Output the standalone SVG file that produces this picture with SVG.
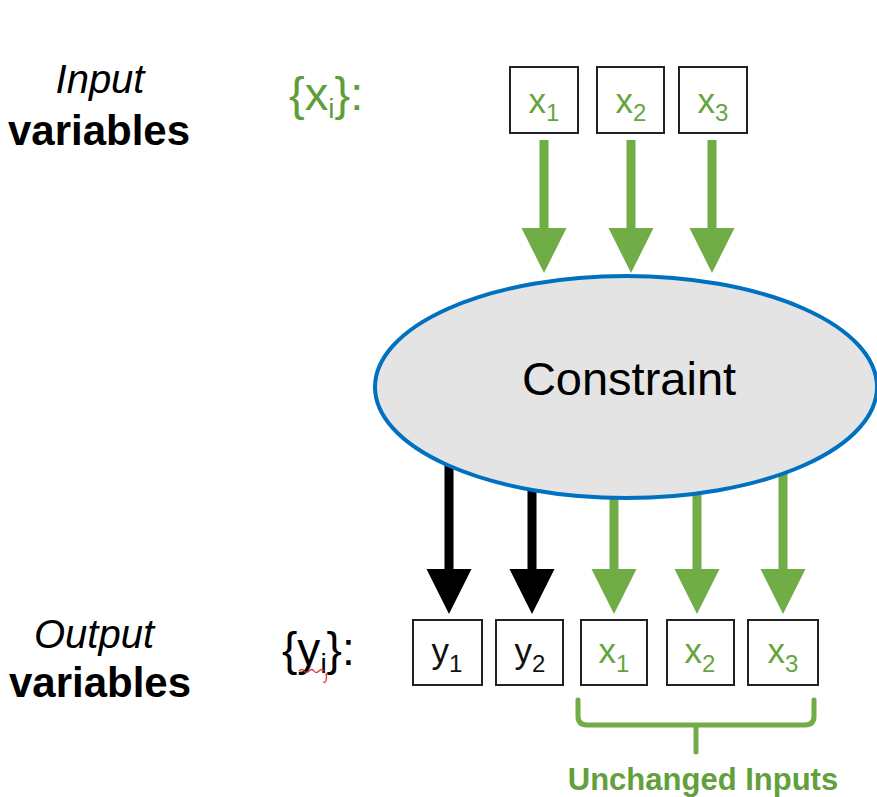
<svg xmlns="http://www.w3.org/2000/svg" width="877" height="797" viewBox="0 0 877 797">
  <style>
    .label { font-family: "Liberation Sans", Arial, sans-serif; fill: #000; }
    .ital { font-style: italic; font-size: 40px; }
    .bold { font-weight: bold; font-size: 42px; }
    .box { fill: #fff; stroke: #222; stroke-width: 2; }
    .var { font-family: "Liberation Sans", Arial, sans-serif; font-size: 35px; }
    .sub { font-size: 24px; }
    .green { fill: #64A53E; }
    .black { fill: #111; }
    .shaft-g { stroke: #70AD47; stroke-width: 9; fill: none; }
    .shaft-k { stroke: #000; stroke-width: 9; fill: none; }
  </style>
  <defs>
    <!-- Arrowhead shape, tip at origin pointing down -->
    <polygon id="headShape" points="-22.5,-45 22.5,-45 0,0"/>
  </defs>

  <rect width="877" height="797" fill="#fff"/>

  <!-- Row labels -->
  <g id="label-input">
    <text class="label ital" x="100" y="93" text-anchor="middle">Input</text>
    <text class="label bold" x="99" y="145" text-anchor="middle">variables</text>
  </g>
  <g id="label-output">
    <text class="label ital" x="94" y="648" text-anchor="middle">Output</text>
    <text class="label bold" x="100" y="697" text-anchor="middle">variables</text>
  </g>

  <!-- Set notation -->
  <g id="set-x">
    <text x="289" y="110" font-family="Liberation Sans, Arial, sans-serif" font-size="47" fill="#5E9E3A">{x<tspan font-size="28" dy="8">i</tspan><tspan dy="-8">}:</tspan></text>
  </g>
  <g id="set-y">
    <text x="282" y="665" font-family="Liberation Sans, Arial, sans-serif" font-size="46" fill="#000">{y<tspan font-size="28" dy="8">i</tspan><tspan dy="-8">}:</tspan></text>
    <path d="M299,671 q3,-3 5,0 t5,0 t5,0 t5,0 t5,0 M326,673 q1,4 0,8 q-1,2 -3,1" fill="none" stroke="#E03030" stroke-width="1.3"/>
  </g>

  <!-- Connectors -->
  <g id="connectors">
    <!-- inputs into the constraint -->
    <line class="shaft-g" x1="544" y1="140" x2="544" y2="230"/>
    <use href="#headShape" x="544" y="273" fill="#70AD47"/>
    <line class="shaft-g" x1="631" y1="140" x2="631" y2="230"/>
    <use href="#headShape" x="631" y="273" fill="#70AD47"/>
    <line class="shaft-g" x1="712" y1="140" x2="712" y2="230"/>
    <use href="#headShape" x="712" y="273" fill="#70AD47"/>
    <!-- outputs from the constraint -->
    <line class="shaft-k" x1="449" y1="420" x2="449" y2="570"/>
    <use href="#headShape" x="449" y="614" fill="#000"/>
    <line class="shaft-k" x1="532" y1="420" x2="532" y2="570"/>
    <use href="#headShape" x="532" y="614" fill="#000"/>
    <line class="shaft-g" x1="614" y1="420" x2="614" y2="570"/>
    <use href="#headShape" x="614" y="614" fill="#70AD47"/>
    <line class="shaft-g" x1="697" y1="420" x2="697" y2="570"/>
    <use href="#headShape" x="697" y="614" fill="#70AD47"/>
    <line class="shaft-g" x1="783" y1="420" x2="783" y2="570"/>
    <use href="#headShape" x="783" y="614" fill="#70AD47"/>
  </g>

  <!-- Constraint node -->
  <g id="constraint">
    <ellipse cx="626" cy="387" rx="251" ry="111" fill="#E4E4E4" stroke="#0070C0" stroke-width="4"/>
    <text class="label" x="629" y="395" text-anchor="middle" font-size="47">Constraint</text>
  </g>

  <!-- Input variable boxes -->
  <g id="in-x1">
    <rect class="box" x="510" y="67" width="68" height="66"/>
    <text class="var green" x="544" y="113" text-anchor="middle">x<tspan class="sub" dy="8">1</tspan></text>
  </g>
  <g id="in-x2">
    <rect class="box" x="597" y="67" width="67" height="66"/>
    <text class="var green" x="631" y="113" text-anchor="middle">x<tspan class="sub" dy="8">2</tspan></text>
  </g>
  <g id="in-x3">
    <rect class="box" x="679" y="67" width="68" height="66"/>
    <text class="var green" x="713" y="113" text-anchor="middle">x<tspan class="sub" dy="8">3</tspan></text>
  </g>

  <!-- Output variable boxes -->
  <g id="out-y1">
    <rect class="box" x="413" y="620" width="69" height="65"/>
    <text class="var black" x="447" y="663" text-anchor="middle">y<tspan class="sub" dy="9">1</tspan></text>
  </g>
  <g id="out-y2">
    <rect class="box" x="496" y="620" width="67" height="65"/>
    <text class="var black" x="530" y="663" text-anchor="middle">y<tspan class="sub" dy="9">2</tspan></text>
  </g>
  <g id="out-x1">
    <rect class="box" x="581" y="620" width="66" height="65"/>
    <text class="var green" x="614" y="663" text-anchor="middle">x<tspan class="sub" dy="9">1</tspan></text>
  </g>
  <g id="out-x2">
    <rect class="box" x="667" y="620" width="67" height="65"/>
    <text class="var green" x="700" y="663" text-anchor="middle">x<tspan class="sub" dy="9">2</tspan></text>
  </g>
  <g id="out-x3">
    <rect class="box" x="748" y="620" width="70" height="65"/>
    <text class="var green" x="783" y="663" text-anchor="middle">x<tspan class="sub" dy="9">3</tspan></text>
  </g>

  <!-- Unchanged inputs bracket -->
  <g id="unchanged">
    <path d="M578,700 V716 Q578,725 587,725 H805 Q814,725 814,716 V700 M696,725 V752" fill="none" stroke="#70AD47" stroke-width="5" stroke-linecap="round"/>
    <text x="703" y="790" text-anchor="middle" font-family="Liberation Sans, Arial, sans-serif" font-weight="bold" font-size="31" fill="#62A03C">Unchanged Inputs</text>
  </g>
</svg>
